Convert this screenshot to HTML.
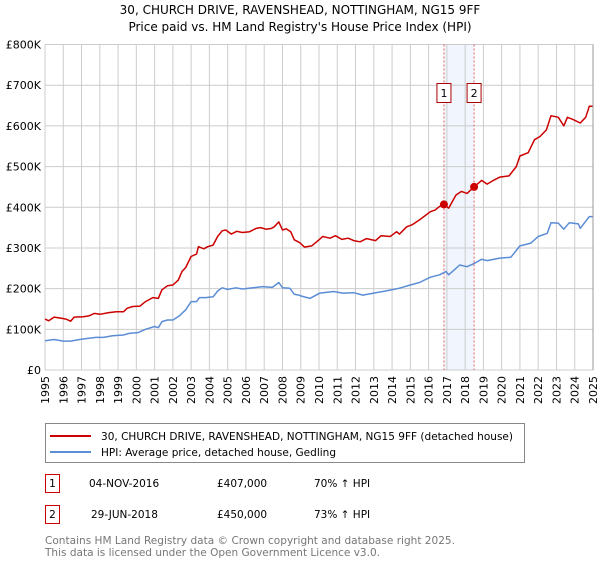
<!DOCTYPE html>
<html><head><meta charset="utf-8"><style>
body{margin:0;background:#fff;font-family:"Liberation Sans","DejaVu Sans",sans-serif;}
svg text{font-family:"DejaVu Sans","Liberation Sans",sans-serif;}
</style></head><body>
<svg id="chart" width="600" height="560" xmlns="http://www.w3.org/2000/svg">
<text x="300" y="14" text-anchor="middle" font-size="12">30, CHURCH DRIVE, RAVENSHEAD, NOTTINGHAM, NG15 9FF</text>
<text x="300" y="31" text-anchor="middle" font-size="12">Price paid vs. HM Land Registry's House Price Index (HPI)</text>
<g id="grid"></g>
<g id="marks"></g>
<g id="axes"></g>
<g>
<rect x="45.5" y="423.5" width="479" height="39" fill="#fff" stroke="#888"/>
<line x1="50" y1="436" x2="91" y2="436" stroke="#cc0000" stroke-width="2"/>
<text x="101" y="440" font-size="10.5" textLength="412" lengthAdjust="spacingAndGlyphs">30, CHURCH DRIVE, RAVENSHEAD, NOTTINGHAM, NG15 9FF (detached house)</text>
<line x1="50" y1="452" x2="91" y2="452" stroke="#5b8dd6" stroke-width="2"/>
<text x="101" y="456" font-size="10.5" textLength="235" lengthAdjust="spacingAndGlyphs">HPI: Average price, detached house, Gedling</text>
</g>
<g font-size="10.5">
<rect x="45.5" y="474.5" width="14" height="18" fill="#fff" stroke="#cc0000"/>
<text x="52.5" y="487" text-anchor="middle">1</text>
<text x="89" y="487">04-NOV-2016</text>
<text x="217" y="487">£407,000</text>
<text x="314" y="487">70% ↑ HPI</text>
<rect x="45.5" y="505.5" width="14" height="18" fill="#fff" stroke="#cc0000"/>
<text x="52.5" y="518" text-anchor="middle">2</text>
<text x="91" y="518">29-JUN-2018</text>
<text x="217" y="518">£450,000</text>
<text x="314" y="518">73% ↑ HPI</text>
</g>
<text x="45" y="544" font-size="10.5" fill="#777" textLength="410" lengthAdjust="spacingAndGlyphs">Contains HM Land Registry data © Crown copyright and database right 2025.</text>
<text x="45" y="556" font-size="10.5" fill="#777" textLength="335" lengthAdjust="spacingAndGlyphs">This data is licensed under the Open Government Licence v3.0.</text>
</svg>
<script>
const redYears=[1995,1995.2,1995.5,1995.9,1996.15,1996.4,1996.6,1997.1,1997.4,1997.7,1998,1998.5,1998.9,1999.3,1999.5,1999.8,2000.2,2000.5,2000.9,2001.2,2001.4,2001.7,2002,2002.3,2002.5,2002.7,2003,2003.3,2003.4,2003.7,2003.9,2004.2,2004.45,2004.7,2004.9,2005.2,2005.5,2005.8,2006.2,2006.55,2006.8,2007.1,2007.4,2007.55,2007.8,2008,2008.2,2008.45,2008.65,2008.9,2009,2009.2,2009.6,2010,2010.2,2010.6,2010.9,2011.25,2011.6,2011.9,2012.25,2012.6,2013.1,2013.4,2013.9,2014.25,2014.4,2014.8,2015.1,2015.5,2016.1,2016.35,2016.6,2016.84,2017.1,2017.5,2017.8,2018.1,2018.49,2018.9,2019.2,2019.55,2019.9,2020.4,2020.8,2021,2021.45,2021.8,2022.1,2022.45,2022.7,2023.1,2023.4,2023.6,2023.9,2024.3,2024.6,2024.8,2025];
const redValues=[125,121,130,127,125,120,130,131,133,139,137,141,143,143,152,156,157,168,178,176,197,207,209,221,242,252,279,285,303,298,303,307,328,342,344,334,341,338,340,348,350,346,348,352,364,344,347,340,320,314,311,302,305,320,328,324,330,321,324,318,315,323,318,330,328,340,334,352,357,369,389,393,402,407,398,430,439,434,450,466,457,466,474,477,500,526,534,566,574,590,625,621,600,621,616,607,621,648,648];
const hpiYears=[1995,1995.5,1996,1996.4,1996.9,1997.4,1997.8,1998.2,1998.7,1999.3,1999.6,2000.1,2000.5,2001,2001.2,2001.4,2001.7,2002,2002.35,2002.7,2003,2003.3,2003.45,2003.8,2004.2,2004.45,2004.7,2005,2005.45,2005.8,2006.4,2006.9,2007.45,2007.8,2008,2008.4,2008.65,2008.9,2009,2009.5,2010.05,2010.8,2011.3,2011.9,2012.4,2013,2013.5,2014.1,2014.4,2015,2015.5,2016.1,2016.6,2016.95,2017.1,2017.7,2018.1,2018.5,2018.9,2019.2,2019.9,2020.5,2021,2021.6,2022,2022.5,2022.7,2023.1,2023.4,2023.7,2024.2,2024.3,2024.8,2025];
const hpiValues=[72,75,71,71,75,78,80,80,84,86,90,92,100,107,104,119,123,123,133,148,168,168,178,178,180,194,202,198,202,199,202,205,203,215,202,201,186,184,182,176,189,193,189,190,184,189,193,198,201,209,215,228,234,242,234,258,254,262,272,269,275,277,305,312,328,336,362,361,346,362,359,348,377,377];
const saleYears=[2016.84,2018.49];
const saleValues=[407,450];
const saleLabels=["1","2"];
const yTicks=[0,100,200,300,400,500,600,700,800];
const yTickLabels=["£0","£100K","£200K","£300K","£400K","£500K","£600K","£700K","£800K"];
const xTicks=[1995,1996,1997,1998,1999,2000,2001,2002,2003,2004,2005,2006,2007,2008,2009,2010,2011,2012,2013,2014,2015,2016,2017,2018,2019,2020,2021,2022,2023,2024,2025];

const NS="http://www.w3.org/2000/svg";
const X0=45,X1=593,Y0=370,Y1=44.5;
const xs=y=>X0+(y-1995)/30*(X1-X0);
const ys=v=>Y0-v/800*(Y0-Y1);
function mk(tag,attrs,parent){const e=document.createElementNS(NS,tag);for(const k in attrs)e.setAttribute(k,attrs[k]);parent.appendChild(e);return e;}
const grid=document.getElementById('grid'),marks=document.getElementById('marks'),axes=document.getElementById('axes');
const shade=mk('rect',{x:xs(saleYears[0]),y:Y1,width:xs(saleYears[1])-xs(saleYears[0]),height:Y0-Y1,fill:'#eef3fc',opacity:0.8},grid);


xTicks.forEach(t=>{
  const l=mk('line',{x1:xs(t),x2:xs(t),y1:Y1,y2:Y0,stroke:'#cccccc','stroke-width':1},grid);
  
  
  const tx=mk('text',{x:0,y:0,'font-size':11,'text-anchor':'end',transform:`translate(${xs(t)+4},${Y0+6}) rotate(-90)`},axes);
  tx.textContent=t;
  
  
});
yTicks.forEach((t,i)=>{
  const l=mk('line',{x1:X0,x2:X1,y1:ys(t),y2:ys(t),stroke:'#cccccc','stroke-width':1},grid);
  
  
  const tx=mk('text',{x:X0-4,y:ys(t)+4,'font-size':11,'text-anchor':'end'},axes);
  tx.textContent=yTickLabels[i];
  
  
});
saleYears.forEach((s,i)=>{
  const l=mk('line',{x1:xs(s),x2:xs(s),y1:Y1,y2:Y0,stroke:'#e06060','stroke-width':1,'stroke-dasharray':'2,2'},marks);
  
  
});
const path=(xa,va)=>xa.map((x,i)=>(i?'L':'M')+xs(x).toFixed(1)+','+ys(va[i]).toFixed(1)).join('');
const hp=mk('path',{d:path(hpiYears,hpiValues),fill:'none',stroke:'#5b8dd6','stroke-width':1.5,'stroke-linejoin':'round'},marks);


const rp=mk('path',{d:path(redYears,redValues),fill:'none',stroke:'#cc0000','stroke-width':1.5,'stroke-linejoin':'round'},marks);


saleYears.forEach((s,i)=>{
  const c=mk('circle',{cx:xs(s),cy:ys(saleValues[i]),r:4,fill:'#cc0000'},marks);
  
  
  const b=mk('rect',{x:xs(s)-7,y:83.5,width:14,height:19,fill:'#fff',stroke:'#aa0000'},marks);
  
  
  const t=mk('text',{x:xs(s),y:97,'font-size':11,'text-anchor':'middle'},marks);
  t.textContent=saleLabels[i];
  
  
});
const ax=mk('line',{x1:X1,x2:X1,y1:Y1,y2:Y0,stroke:'#999','stroke-width':1},axes);


</script>
</body></html>
